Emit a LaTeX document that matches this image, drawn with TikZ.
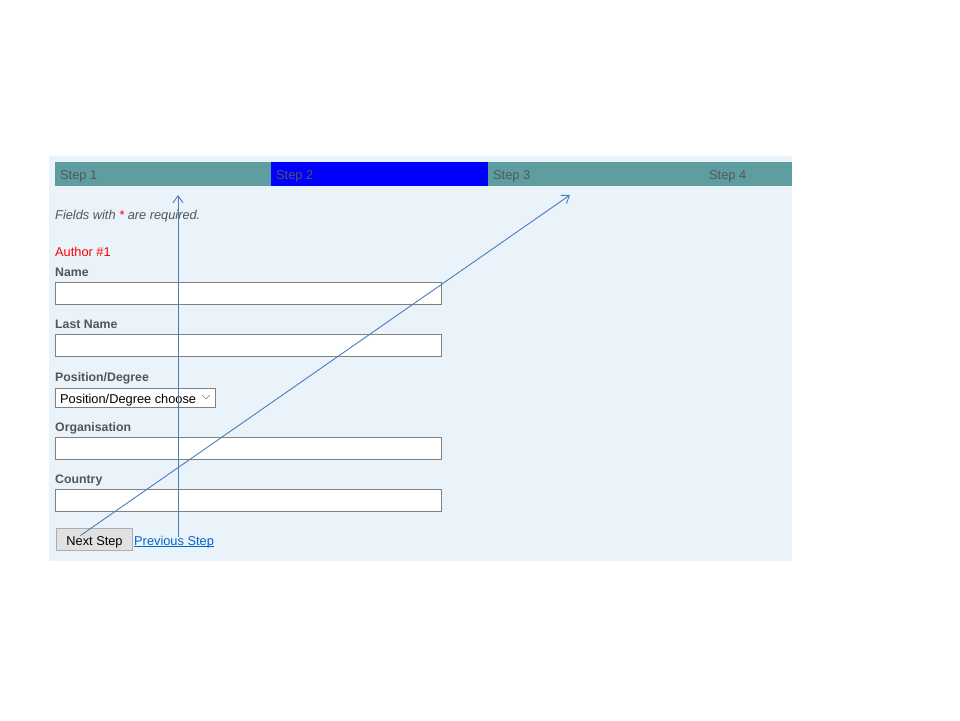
\documentclass[tikz,border=0pt]{standalone}
\usepackage{fontspec}
\setmainfont{Liberation Sans}
\usepackage{tikz}
\usetikzlibrary{positioning, arrows.meta}

\definecolor{panel}{HTML}{EAF2FA}
\definecolor{teal}{HTML}{5F9EA0}
\definecolor{stepblue}{HTML}{0000FF}
\definecolor{labelgray}{HTML}{555555}
\definecolor{arrowblue}{HTML}{4A7EBB}
\definecolor{linkblue}{HTML}{0066CC}

\tikzset{
    uifont/.style = {font=\fontsize{12.8}{15}\selectfont},
    steptext/.style = {anchor=base west, inner sep=0pt, text=labelgray, uifont},
    fieldlabel/.style = {anchor=base west, text=labelgray, font=\fontsize{12.3}{15}\selectfont\bfseries, inner sep=0pt},
    inputbox/.style = {draw=gray, fill=white, line width=1pt, anchor=north west, minimum width=386pt, minimum height=22pt, inner sep=0pt},
    flow/.style = {-{Straight Barb[length=7pt, width=10pt]}, draw=arrowblue, line width=0.9pt}
}

\begin{document}
\begin{tikzpicture}[x=1pt, y=-1pt]
        \useasboundingbox (0,0) rectangle (960,720);
        \fill[panel] (49,156) rectangle (792,561);
        % step bar
        \fill[teal] (55,162) rectangle (271,186);
        \fill[stepblue] (271,162) rectangle (488,186);
        \fill[teal] (488,162) rectangle (792,186);
        \node[steptext] (step1) at (60,179) {Step 1};
        \node[steptext] (step2) at (276,179) {Step 2};
        \node[steptext] (step3) at (493,179) {Step 3};
        \node[steptext] (step4) at (709,179) {Step 4};
        % form
        \node[anchor=base west, inner sep=0pt, text=labelgray, font=\fontsize{12.8}{15}\selectfont\itshape] (req) at (55,219) {Fields with \textcolor{red}{*} are required.};
        \node[anchor=base west, inner sep=0pt, text=red, uifont] (author) at (55,256) {Author \#1};
        \node[fieldlabel] (lname) at (55,276) {Name};
        \node[inputbox] (iname) at (55,282) {};
        \node[fieldlabel] (llast) at (55,328) {Last Name};
        \node[inputbox] (ilast) at (55,334) {};
        \node[fieldlabel] (lpos) at (55,381) {Position/Degree};
        \node[draw=gray, fill=white, line width=1pt, anchor=north west, minimum width=160pt, minimum height=19pt, inner sep=0pt] (ipos) at (55,388) {};
        \node[anchor=base west, inner sep=0pt, uifont] (tpos) at (60,403) {Position/Degree choose};
        \draw[gray, line width=0.6pt] (202,395) -- (206,399) -- (210,395);
        \node[fieldlabel] (lorg) at (55,431) {Organisation};
        \node[inputbox] (iorg) at (55,437) {};
        \node[fieldlabel] (lcountry) at (55,483) {Country};
        \node[inputbox] (icountry) at (55,489) {};
        % buttons
        \node[draw={rgb,255:red,173;green,173;blue,173}, fill={rgb,255:red,225;green,225;blue,225}, line width=1pt, anchor=north west, minimum width=76pt, minimum height=22pt, inner sep=0pt, text height=12pt, text depth=1pt, uifont] (next) at (56,528) {Next Step};
        \node[anchor=base west, inner sep=0pt, text=linkblue, uifont] (prev) at (134,545) {Previous Step};
        \draw[linkblue, line width=0.9pt] ([yshift=-1.5pt]prev.base west) -- ([yshift=-1.5pt]prev.base east);
        % arrows
        \coordinate (p1) at (178,195);
        \coordinate (p3) at (570,195);
        \draw[flow] ([yshift=5pt]prev.center -| p1) -- (p1);
        \draw[flow] ([xshift=-14pt, yshift=4pt]next.center) -- (p3);
    \end{tikzpicture}
\end{document}
